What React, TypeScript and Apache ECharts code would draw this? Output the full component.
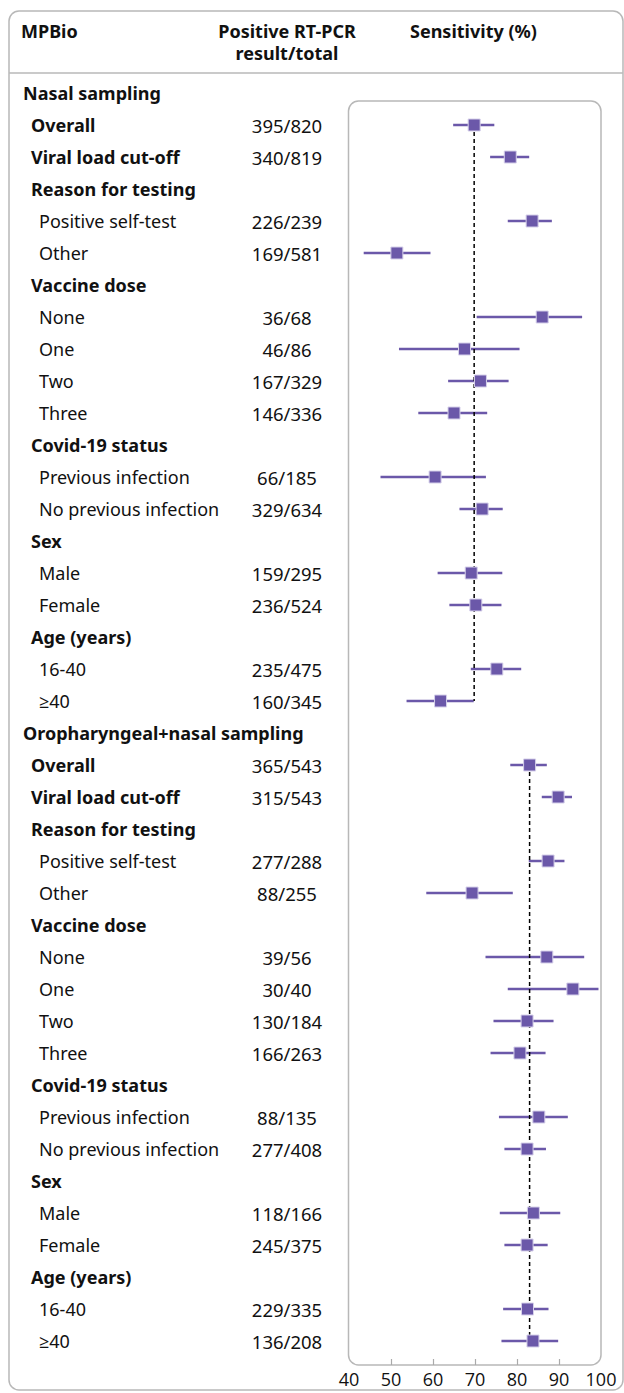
import React, { useEffect, useRef } from "react";
import * as echarts from "echarts";

const sectionTitles = ["Nasal sampling", "Oropharyngeal+nasal sampling"];
const rowLabels = [
  "Overall", "Viral load cut-off", "Reason for testing", "Positive self-test", "Other",
  "Vaccine dose", "None", "One", "Two", "Three", "Covid-19 status", "Previous infection",
  "No previous infection", "Sex", "Male", "Female", "Age (years)", "16-40", "≥40",
];
// 1 = bold, not indented; 2 = regular, indented
const rowLevels = [1, 1, 1, 2, 2, 1, 2, 2, 2, 2, 1, 2, 2, 1, 2, 2, 1, 2, 2];
const nasalCounts = ["395/820", "340/819", "", "226/239", "169/581", "", "36/68", "46/86", "167/329", "146/336", "", "66/185", "329/634", "", "159/295", "236/524", "", "235/475", "160/345"];
const oroCounts = ["365/543", "315/543", "", "277/288", "88/255", "", "39/56", "30/40", "130/184", "166/263", "", "88/135", "277/408", "", "118/166", "245/375", "", "229/335", "136/208"];
const nasalEst = [69.8, 78.4, null, 83.6, 51.4, null, 86.0, 67.5, 71.3, 65.0, null, 60.5, 71.7, null, 69.1, 70.2, null, 75.2, 61.8];
const nasalLow = [64.8, 73.6, null, 77.8, 43.5, null, 70.4, 51.9, 63.6, 56.5, null, 47.5, 66.3, null, 61.1, 63.9, null, 69.0, 53.7];
const nasalHigh = [74.6, 82.9, null, 88.3, 59.4, null, 95.5, 80.6, 78.0, 72.9, null, 72.6, 76.6, null, 76.5, 76.3, null, 81.0, 69.7];
const oroEst = [83.0, 89.8, null, 87.4, 69.3, null, 87.1, 93.3, 82.4, 80.7, null, 85.2, 82.4, null, 83.9, 82.4, null, 82.5, 83.8];
const oroLow = [78.4, 85.9, null, 82.8, 58.4, null, 72.5, 77.8, 74.4, 73.7, null, 75.7, 77.0, null, 75.9, 77.0, null, 76.7, 76.3];
const oroHigh = [87.1, 93.1, null, 91.3, 79.0, null, 96.0, 99.4, 88.7, 86.8, null, 92.1, 86.9, null, 90.3, 87.3, null, 87.5, 89.8];
const referenceValues = [69.8, 83.0];
const innerTicks = [50, 60, 70, 80, 90];

const W = 624;
const H = 1393;
const ROW0 = 93;
const ROWH = 32;
const FONT = "'Noto Sans', 'Open Sans', sans-serif";
const TXT = "#111111";
const PURPLE = "#6b58a9";

export default function App() {
  const ref = useRef<HTMLDivElement>(null);
  useEffect(() => {
    if (!ref.current) return;
    const chart = echarts.init(ref.current, null, { renderer: "svg" });
    const ests = [nasalEst, oroEst];
    const lows = [nasalLow, oroLow];
    const highs = [nasalHigh, oroHigh];
    const counts = [nasalCounts, oroCounts];

    const points: number[][] = [];
    const cis: number[][] = [];
    const texts: any[] = [];
    const rowY = (r: number) => ROW0 + r * ROWH;

    sectionTitles.forEach((title, s) => {
      const base = s * 20;
      texts.push({
        type: "text", x: 23, y: rowY(base),
        style: { text: title, font: `bold 18px ${FONT}`, fill: TXT, verticalAlign: "middle" },
      });
      rowLabels.forEach((lab, j) => {
        const r = base + 1 + j;
        const lvl = rowLevels[j];
        texts.push({
          type: "text", x: lvl === 1 ? 31 : 39, y: rowY(r),
          style: { text: lab, font: `${lvl === 1 ? "bold " : ""}18px ${FONT}`, fill: TXT, verticalAlign: "middle" },
        });
        if (counts[s][j]) {
          texts.push({
            type: "text", x: 287, y: rowY(r),
            style: { text: counts[s][j], font: `18.5px ${FONT}`, fill: TXT, align: "center", verticalAlign: "middle" },
          });
        }
        const e = ests[s][j];
        if (e != null) {
          points.push([e, r]);
          cis.push([lows[s][j] as number, highs[s][j] as number, r]);
        }
      });
    });

    const refSeries = referenceValues.map((v, s) => ({
      type: "line",
      data: [[v, s * 20 + 1], [v, s * 20 + 19]],
      symbol: "none",
      z: 3,
      lineStyle: { color: "#000", width: 1.5, type: [4, 3] },
      silent: true,
    }));

    chart.setOption({
      animation: false,
      grid: { left: 349, right: W - 601, top: 101, bottom: H - 1365 },
      xAxis: {
        type: "value", min: 40, max: 100, interval: 10,
        axisLine: { show: false },
        axisTick: { show: true, inside: true, length: 6, customValues: innerTicks, lineStyle: { color: "#aaa", width: 1.2 } },
        axisLabel: { fontSize: 18, color: TXT, fontFamily: "'Open Sans', sans-serif", margin: 5, showMinLabel: true, showMaxLabel: true },
        splitLine: { show: false },
      },
      yAxis: { type: "value", min: 0.25, max: 39.75, inverse: true, show: false },
      graphic: [
        { type: "rect", shape: { x: 9, y: 11, width: 614, height: 1379, r: 10 }, style: { fill: "none", stroke: "#b8b8b8", lineWidth: 1.5 }, z: 0 },
        { type: "line", shape: { x1: 9, y1: 73, x2: 623, y2: 73 }, style: { stroke: "#b8b8b8", lineWidth: 1.5 } },
        { type: "rect", shape: { x: 348.5, y: 101, width: 252.5, height: 1264, r: 10 }, style: { fill: "none", stroke: "#b8b8b8", lineWidth: 1.5 }, z: 0 },
        { type: "text", x: 21, y: 31, style: { text: "MPBio", font: `bold 18px ${FONT}`, fill: TXT, verticalAlign: "middle" } },
        { type: "text", x: 287, y: 31, style: { text: "Positive RT-PCR", font: `bold 18px ${FONT}`, fill: TXT, align: "center", verticalAlign: "middle" } },
        { type: "text", x: 287, y: 53, style: { text: "result/total", font: `bold 18px ${FONT}`, fill: TXT, align: "center", verticalAlign: "middle" } },
        { type: "text", x: 410, y: 31, style: { text: "Sensitivity (%)", font: `bold 18px ${FONT}`, fill: TXT, verticalAlign: "middle" } },
        ...texts,
      ],
      series: [
        {
          type: "custom",
          z: 2,
          data: cis,
          encode: { x: [0, 1], y: 2 },
          renderItem: (params: any, api: any) => {
            const p1 = api.coord([api.value(0), api.value(2)]);
            const p2 = api.coord([api.value(1), api.value(2)]);
            return {
              type: "line",
              shape: { x1: p1[0], y1: p1[1], x2: p2[0], y2: p2[1] },
              style: { stroke: PURPLE, lineWidth: 2.5 },
            };
          },
          silent: true,
        },
        ...refSeries,
        {
          type: "scatter",
          z: 4,
          data: points,
          symbol: "rect",
          symbolSize: 12,
          itemStyle: { color: PURPLE, borderColor: "#d6d0ea", borderWidth: 1, opacity: 1 },
          silent: true,
        },
      ],
    });
    return () => chart.dispose();
  }, []);
  return <div ref={ref} style={{ position: "absolute", left: 0, top: 0, width: W, height: H }} />;
}
